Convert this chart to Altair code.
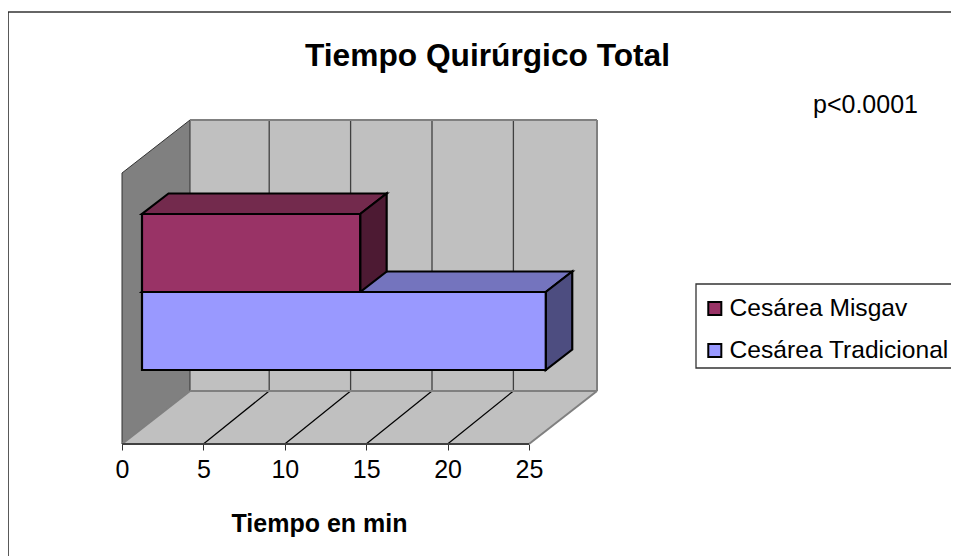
import altair as alt
import pandas as pd

# ---- data ----
categories = ["Cesárea Misgav", "Cesárea Tradicional"]
minutes = [13.4, 24.8]
front_colors = ["#993366", "#9999FF"]
top_colors = ["#732A4D", "#7474BE"]
side_colors = ["#4D1A33", "#4D4D80"]
ticks = [0, 5, 10, 15, 20, 25]

# ---- layout of the oblique box (minutes on x, pixels on y) ----
W, H = 943, 548
PX_PER_MIN = 16.28
LEFT_PX = 114
FLOOR_OFFSET = 112
WALL_DX = 68 / PX_PER_MIN
GRID_DX = 65.8 / PX_PER_MIN
WALL_DY = 53
WALL_H = 271
BAR_X0 = 20 / PX_PER_MIN
BAR_DX = 26.5 / PX_PER_MIN
BAR_DY = 20.5
BAR_H = 78
BAR_BASE = 74
AXIS_MAX = 25

xs = alt.Scale(domain=[-LEFT_PX / PX_PER_MIN, (W - LEFT_PX) / PX_PER_MIN], nice=False, zero=False)
ys = alt.Scale(domain=[-FLOOR_OFFSET, H - FLOOR_OFFSET], nice=False, zero=False)
axis = alt.Axis(values=ticks, domain=False, grid=False, ticks=True, tickSize=6, tickColor="#333333",
                tickWidth=1, offset=-FLOOR_OFFSET, labelFont="Liberation Sans", labelFontSize=25,
                labelColor="#000000", labelPadding=7, labelOverlap=False, labelFlush=False,
                title="Tiempo en min", titleFont="Liberation Sans", titleFontSize=25,
                titleFontWeight="bold", titleColor="#000000", titleX=311, titleY=87,
                titleAlign="center", titleBaseline="alphabetic", format="d")
X = lambda f="x": alt.X(f"{f}:Q", scale=xs, axis=axis)
Y = lambda f="y": alt.Y(f"{f}:Q", scale=ys, axis=None, stack=None)


def vface(x0, x1, low0, high0, low1, high1, fill, stroke=None, sw=1):
    """Parallelogram with vertical left and right edges."""
    df = pd.DataFrame({"x": [x0, x1], "y": [high0, high1], "y2": [low0, low1]})
    kw = dict(stroke=stroke, strokeWidth=sw) if stroke else {}
    return alt.Chart(df).mark_area(orient="vertical", fill=fill, **kw).encode(
        x=X(), y=Y(), y2="y2:Q")


def hface(yl, yh, xl0, xl1, xh0, xh1, fill, stroke=None, sw=1):
    """Parallelogram with horizontal top and bottom edges."""
    df = pd.DataFrame({"y": [yl, yh], "x": [xl0, xh0], "x2": [xl1, xh1]})
    kw = dict(stroke=stroke, strokeWidth=sw) if stroke else {}
    return alt.Chart(df).mark_area(orient="horizontal", fill=fill, **kw).encode(
        y=Y(), x=X(), x2="x2:Q")


def segs(rows, color, sw):
    df = pd.DataFrame(rows, columns=["x", "x2", "y", "y2"])
    return alt.Chart(df).mark_rule(color=color, strokeWidth=sw).encode(
        x=X(), x2="x2:Q", y=Y(), y2="y2:Q")


layers = []
# frame of the chart area
layers.append(alt.Chart(pd.DataFrame({"a": [0]})).mark_rule(color="#333333", strokeWidth=1.5).encode(
    x=alt.value(0), x2=alt.value(W), y=alt.value(4)))
layers.append(alt.Chart(pd.DataFrame({"a": [0]})).mark_rule(color="#222222", strokeWidth=1.5).encode(
    x=alt.value(0), y=alt.value(4), y2=alt.value(H)))

# walls and floor
top = WALL_DY + WALL_H
layers.append(vface(WALL_DX, WALL_DX + AXIS_MAX, WALL_DY, top, WALL_DY, top, "#C0C0C0"))
layers.append(vface(0, WALL_DX, 0, WALL_H, WALL_DY, top, "#808080", "#333333", 1))
layers.append(hface(0, WALL_DY, 0, AXIS_MAX, WALL_DX, WALL_DX + AXIS_MAX, "#C0C0C0"))

# grid lines
layers.append(segs([[GRID_DX + t, GRID_DX + t, WALL_DY, top] for t in ticks[1:-1]], "#404040", 1.3))
layers.append(segs([[t, GRID_DX + t, 0, WALL_DY] for t in ticks[1:-1]], "#000000", 1.2))
# wall edges
layers.append(segs([
    [WALL_DX, WALL_DX + AXIS_MAX, top, top],
    [WALL_DX, WALL_DX + AXIS_MAX, WALL_DY, WALL_DY],
    [WALL_DX + AXIS_MAX, WALL_DX + AXIS_MAX, WALL_DY, top],
    [AXIS_MAX, WALL_DX + AXIS_MAX, 0, WALL_DY],
    [0, WALL_DX, 0, WALL_DY],
], "#808080", 2))
layers.append(segs([[0, AXIS_MAX, 0, 0]], "#404040", 2))

# bars: back one last so the stack reads like the original
front_rows = []
for i in [1, 0]:
    base = BAR_BASE + (BAR_H if i == 0 else 0)
    v = minutes[i]
    xa, xb = BAR_X0, BAR_X0 + v
    layers.append(hface(base + BAR_H, base + BAR_H + BAR_DY, xa, xb, xa + BAR_DX, xb + BAR_DX,
                        top_colors[i], "#000000", 2.2))
    layers.append(vface(xb, xb + BAR_DX, base, base + BAR_H, base + BAR_DY, base + BAR_H + BAR_DY,
                        side_colors[i], "#000000", 2.2))
    front_rows.append({"cat": categories[i], "x": xa, "x2": xb, "y": base, "y2": base + BAR_H})

# legend box behind the legend, running off the right edge as in the original
layers.append(alt.Chart(pd.DataFrame({"a": [0]})).mark_rect(
    fill="#FFFFFF", stroke="#333333", strokeWidth=1.3
).encode(x=alt.value(688), x2=alt.value(W + 6), y=alt.value(276), y2=alt.value(360)))

color = alt.Color("cat:N", scale=alt.Scale(domain=categories, range=front_colors),
                  sort=categories,
                  legend=alt.Legend(
                      title=None, orient="none", legendX=694.5, legendY=288,
                      padding=0,
                      symbolType="square", symbolSize=170, symbolStrokeColor="#000000",
                      symbolStrokeWidth=2, labelFont="Liberation Sans", labelFontSize=24.6,
                      labelColor="#000000", labelOffset=2.5, rowPadding=16, labelLimit=400,
                      columnPadding=0, clipHeight=25))
layers.append(alt.Chart(pd.DataFrame(front_rows)).mark_rect(stroke="#000000", strokeWidth=2.2).encode(
    x=X(), x2="x2:Q", y=Y(), y2="y2:Q", color=color))

# note
layers.append(alt.Chart(pd.DataFrame({"t": ["p<0.0001"]})).mark_text(
    font="Liberation Sans", fontSize=25, color="#000000", align="left", baseline="alphabetic"
).encode(text="t:N", x=alt.value(805), y=alt.value(105)))

chart = alt.layer(*layers).properties(
    width=W, height=H,
    padding=0,
    background="#FFFFFF",
    autosize=alt.AutoSizeParams(type="none"),
    title=alt.TitleParams("Tiempo Quirúrgico Total", font="Liberation Sans", fontSize=31.7,
                          fontWeight="bold", color="#000000", anchor="start", frame="group",
                          offset=0, dx=297, dy=90, baseline="alphabetic"),
).configure_view(stroke=None)

chart.save("out.html", embed_options={"renderer": "svg", "actions": False})
